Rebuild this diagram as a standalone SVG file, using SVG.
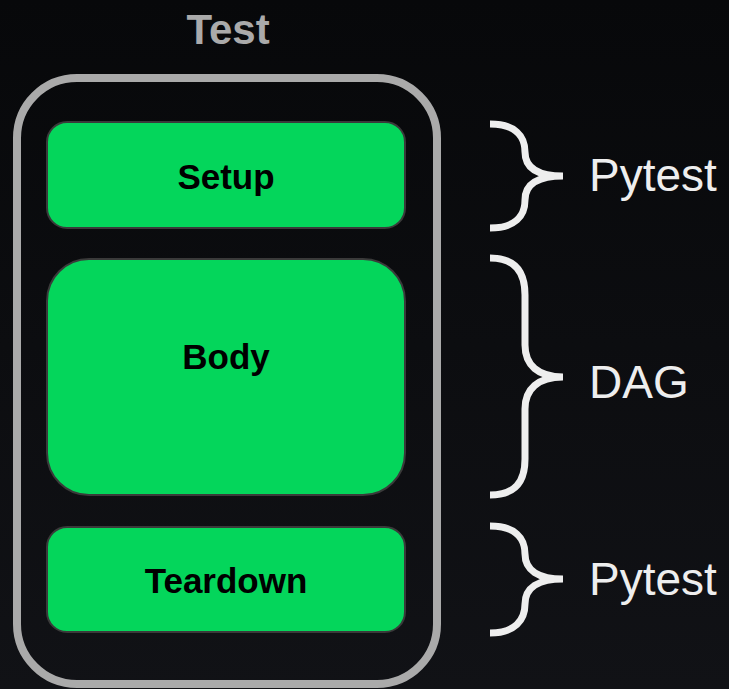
<svg xmlns="http://www.w3.org/2000/svg" width="729" height="689" viewBox="0 0 729 689">
<defs>
<linearGradient id="bg" x1="0" y1="0" x2="0" y2="1">
<stop offset="0" stop-color="#07080a"/>
<stop offset="1" stop-color="#111216"/>
</linearGradient>
</defs>
<style>
.box{fill:#04d65b;stroke:#3a3a3a;stroke-width:2}
.lbl{font-family:"Liberation Sans",Arial,sans-serif;font-size:35px;fill:#000;text-anchor:middle;font-weight:bold}
.side{font-family:"Liberation Sans",Arial,sans-serif;font-size:46px;fill:#eeeeee}
.brace{fill:none;stroke:#eeeeee;stroke-width:7;stroke-linecap:butt}
</style>
<rect width="729" height="689" fill="url(#bg)"/>
<g id="test">
<rect x="17" y="78" width="420" height="606" rx="60" fill="none" stroke="#aaaaaa" stroke-width="8"/>
<text x="228" y="44" text-anchor="middle" font-family="Liberation Sans, Arial, sans-serif" font-size="42" font-weight="bold" fill="#aaaaaa">Test</text>
</g>
<g id="setup">
<rect class="box" x="47" y="122" width="358" height="106" rx="20"/>
<text class="lbl" x="226" y="189">Setup</text>
</g>
<g id="body">
<rect class="box" x="47" y="259" width="358" height="236" rx="42"/>
<text class="lbl" x="226" y="369">Body</text>
</g>
<g id="teardown">
<rect class="box" x="47" y="527" width="358" height="105" rx="20"/>
<text class="lbl" x="226" y="593">Teardown</text>
</g>
<g id="connectors">
<path class="brace" d="M490,124 C515,124 525,136 525,152 C525,168 538,176 563,176 C538,176 525,184 525,200 C525,216 515,228 490,228"/>
<path class="brace" d="M490,258 C515,258 525,272 525,295 L525,345 C525,365 538,377 563,377 C538,377 525,389 525,409 L525,459 C525,482 515,495 490,495"/>
<path class="brace" d="M490,526 C515,526 525,538 525,554 C525,570 538,579 563,579 C538,579 525,588 525,604 C525,620 515,633 490,633"/>
</g>
<text class="side" x="589" y="191">Pytest</text>
<text class="side" x="589" y="398">DAG</text>
<text class="side" x="589" y="595">Pytest</text>
</svg>
